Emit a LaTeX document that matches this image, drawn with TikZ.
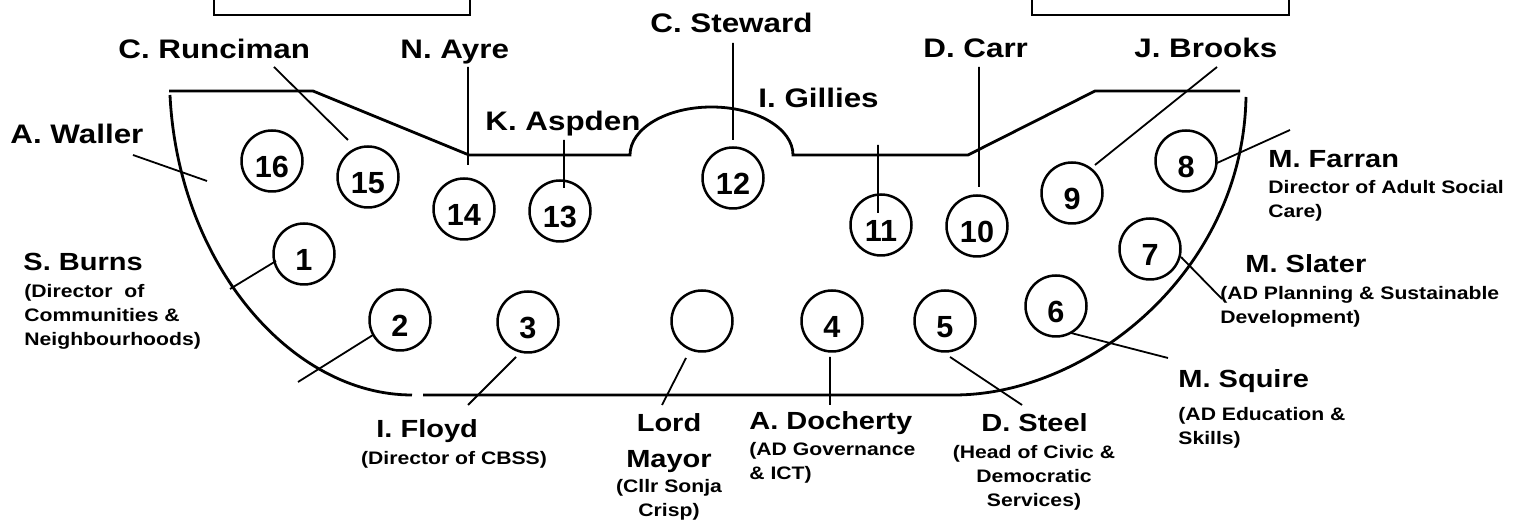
\documentclass[tikz,border=0pt]{standalone}
\usepackage{fontspec}
\setmainfont[FakeStretch=1.17]{Liberation Sans}
\newfontfamily\seatfamily{Liberation Sans}
\newcommand\nmbig{\fontsize{13.4}{16}\selectfont\bfseries}
\newcommand\nmsmall{\fontsize{12.4}{17.75}\selectfont\bfseries}
\newcommand\nmrole{\fontsize{9.05}{12}\selectfont\bfseries}
\newcommand\nmseat{\seatfamily\fontsize{15.3}{17}\selectfont\bfseries}

\begin{document}
\begin{tikzpicture}[x=0.5pt,y=-0.5pt,
	seat/.style={circle,draw,line width=1.25pt,minimum size=30.5pt,inner sep=0pt,font=\nmseat,text height=16.4pt,text depth=0pt},
	upname/.style={anchor=base west,inner sep=0pt,font=\nmbig},
	lowname/.style={anchor=base west,inner sep=0pt,font=\nmsmall},
	role/.style={inner sep=0pt,font=\nmrole},
	rim/.style={line width=1.4pt},
	topbox/.style={line width=1.25pt},
	lead/.style={line width=0.9pt}]
\useasboundingbox (0,0) rectangle (1522,522);

	\draw[topbox] (214,0) -- (214,15) -- (470,15) -- (470,0);
	\draw[topbox] (1032,0) -- (1032,15) -- (1289,15) -- (1289,0);

	\draw[rim] (169,91) -- (313,91) -- (469,155) -- (630,155)
		arc[start angle=180,end angle=360,x radius=81.5,y radius=48]
		-- (968,155) -- (1095,91) -- (1240,91);
	\draw[rim] (170,95) .. controls (178,262) and (290,395) .. (412,395);
	\draw[rim] (423,395) -- (954,395) .. controls (1090,395) and (1243,270) .. (1246,97);

	\node[seat] (s1) at (304,254) {1};
	\node[seat] (s2) at (400,320) {2};
	\node[seat] (s3) at (528,322) {3};
	\node[seat] (lm) at (702,321) {};
	\node[seat] (s4) at (832,321) {4};
	\node[seat] (s5) at (945,321) {5};
	\node[seat] (s6) at (1056,306) {6};
	\node[seat] (s7) at (1150,249) {7};
	\node[seat] (s8) at (1186,161) {8};
	\node[seat] (s9) at (1072,193) {9};
	\node[seat] (s10) at (977,226) {10};
	\node[seat] (s11) at (881,225) {11};
	\node[seat] (s12) at (733,178) {12};
	\node[seat] (s13) at (560,211) {13};
	\node[seat] (s14) at (464,209) {14};
	\node[seat] (s15) at (368,177) {15};
	\node[seat] (s16) at (272,161) {16};

	\node[upname] (waller) at (10,143.6) {A. Waller};
	\node[upname] (runciman) at (118,59) {C. Runciman};
	\node[upname] (ayre) at (400,58.6) {N. Ayre};
	\node[upname] (aspden) at (485,131) {K. Aspden};
	\node[upname] (steward) at (650,32.5) {C. Steward};
	\node[upname] (gillies) at (758,108) {I. Gillies};
	\node[upname] (carr) at (923,58) {D. Carr};
	\node[upname] (brooks) at (1134,58) {J. Brooks};

	\node[lowname] (burns) at (23,271) {S. Burns};
	\node[lowname] (floyd) at (376,437.5) {I. Floyd};
	\node[lowname,anchor=north,align=center] (mayor) at (669,413.5) {Lord\\Mayor};
	\node[lowname] (docherty) at (749,430) {A. Docherty};
	\node[lowname] (steel) at (981,432) {D. Steel};
	\node[lowname] (farran) at (1268,168) {M. Farran};
	\node[lowname] (slater) at (1245,273) {M. Slater};
	\node[lowname] (squire) at (1178,388) {M. Squire};

	\node[role,anchor=north west,align=left] (burnsr) at (24,283.8) {(Director\ \ of\\Communities \&\\Neighbourhoods)};
	\node[role,anchor=base] (floydr) at (454,465) {(Director of CBSS)};
	\node[role,anchor=north,align=center] (mayorr) at (669,478.8) {(Cllr Sonja\\Crisp)};
	\node[role,anchor=north west,align=left] (dochertyr) at (749,441.8) {(AD Governance\\\& ICT)};
	\node[role,anchor=north,align=center] (steelr) at (1034,444.8) {(Head of Civic \&\\Democratic\\Services)};
	\node[role,anchor=north west,align=left] (farranr) at (1268,179.8) {Director of Adult Social\\Care)};
	\node[role,anchor=north west,align=left] (slaterr) at (1220,285.8) {(AD Planning \& Sustainable\\Development)};
	\node[role,anchor=north west,align=left] (squirer) at (1178,406.8) {(AD Education \&\\Skills)};

	\coordinate (p1) at (230,289);   \coordinate (q1) at (276,261);
	\coordinate (p2) at (298,382);   \coordinate (q2) at (373,335);
	\coordinate (p3) at (468,405);   \coordinate (q3) at (516,357);
	\coordinate (plm) at (662,405);  \coordinate (qlm) at (686,358);
	\coordinate (p4) at (830,405);   \coordinate (q4) at (830,357);
	\coordinate (p5) at (1022,405);  \coordinate (q5) at (950,357);
	\coordinate (p6) at (1168,358);  \coordinate (q6) at (1071,333);
	\coordinate (p7) at (1222,299);  \coordinate (q7) at (1181,257);
	\coordinate (p8) at (1290,130);  \coordinate (q8) at (1217,163);
	\coordinate (p9) at (1217,67);   \coordinate (q9) at (1095,165);
	\coordinate (p10) at (979,67);   \coordinate (q10) at (979,187);
	\coordinate (p11) at (878,145);  \coordinate (q11) at (878,213);
	\coordinate (p12) at (733,43);   \coordinate (q12) at (733,140);
	\coordinate (p13) at (564,140);  \coordinate (q13) at (564,188);
	\coordinate (p14) at (468,67);   \coordinate (q14) at (468,165);
	\coordinate (p15) at (274,67);   \coordinate (q15) at (348,140);
	\coordinate (p16) at (133,155);  \coordinate (q16) at (207,181);

	\draw[lead] (p1) -- (q1) (p2) -- (q2) (p3) -- (q3) (plm) -- (qlm)
		(p4) -- (q4) (p5) -- (q5) (p6) -- (q6) (p7) -- (q7) (p8) -- (q8)
		(p9) -- (q9) (p10) -- (q10) (p11) -- (q11) (p12) -- (q12)
		(p13) -- (q13) (p14) -- (q14) (p15) -- (q15) (p16) -- (q16);
\end{tikzpicture}
\end{document}
